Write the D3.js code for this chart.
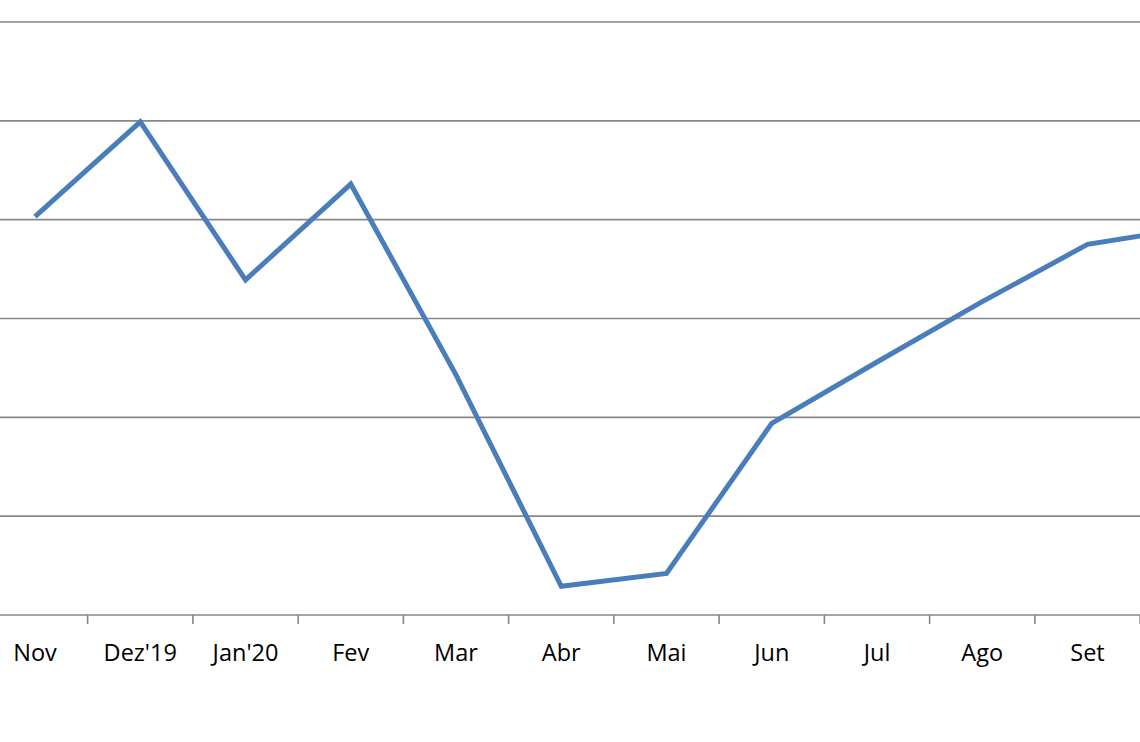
<!DOCTYPE html>
<html>
<head>
<meta charset="utf-8">
<script src="https://cdn.jsdelivr.net/npm/d3@7"></script>
<style>
  body { margin: 0; background: #fff; }
  svg { display: block; }
</style>
</head>
<body>
<script>
// months (the last one sits just past the right edge, only its line segment shows)
let months = ["Nov", "Dez'19", "Jan'20", "Fev", "Mar", "Abr", "Mai", "Jun", "Jul", "Ago", "Set", "Out"];
let values = [4.03, 4.99, 3.39, 4.36, 2.43, 0.29, 0.42, 1.94, 2.56, 3.17, 3.75, 3.92];
let gridValues = [0, 1, 2, 3, 4, 5, 6];

let svgWidth = 1140, svgHeight = 742;
let step = 105.25;

let svg = d3.select('body').append('svg')
  .attr('width', svgWidth).attr('height', svgHeight)

let xScale = d3.scalePoint()
  .domain(months)
  .range([35, 35 + step * (months.length - 1)])

let yScale = d3.scaleLinear()
  .domain([0, 6])
  .range([615, 22])

// gridlines
svg.append('g').selectAll('line')
  .data(gridValues)
  .enter()
  .append('line')
  .attr('x1', 0).attr('x2', svgWidth)
  .attr('y1', d => yScale(d)).attr('y2', d => yScale(d))
  .attr('stroke', '#878787')
  .attr('stroke-width', 1.6)

// category ticks between months
svg.append('g').selectAll('line')
  .data(months)
  .enter()
  .append('line')
  .attr('x1', d => xScale(d) + step / 2).attr('x2', d => xScale(d) + step / 2)
  .attr('y1', yScale(0)).attr('y2', yScale(0) + 9)
  .attr('stroke', '#878787')
  .attr('stroke-width', 1.6)

// labels, only for months whose label fits inside the picture
svg.append('g').selectAll('text')
  .data(months.filter(d => xScale(d) < svgWidth - 20))
  .enter()
  .append('text')
  .text(d => d)
  .attr('x', d => xScale(d))
  .attr('y', 661)
  .attr('text-anchor', 'middle')
  .attr('font-family', '"Open Sans", sans-serif')
  .attr('font-size', 23.5)
  .attr('fill', '#000')

let line = d3.line()
  .x((d, i) => xScale(months[i]))
  .y(d => yScale(d))

svg.append('path')
  .datum(values)
  .attr('d', line)
  .attr('fill', 'none')
  .attr('stroke', '#4a7ebb')
  .attr('stroke-width', 5)
  .attr('stroke-linejoin', 'miter')
</script>
</body>
</html>
